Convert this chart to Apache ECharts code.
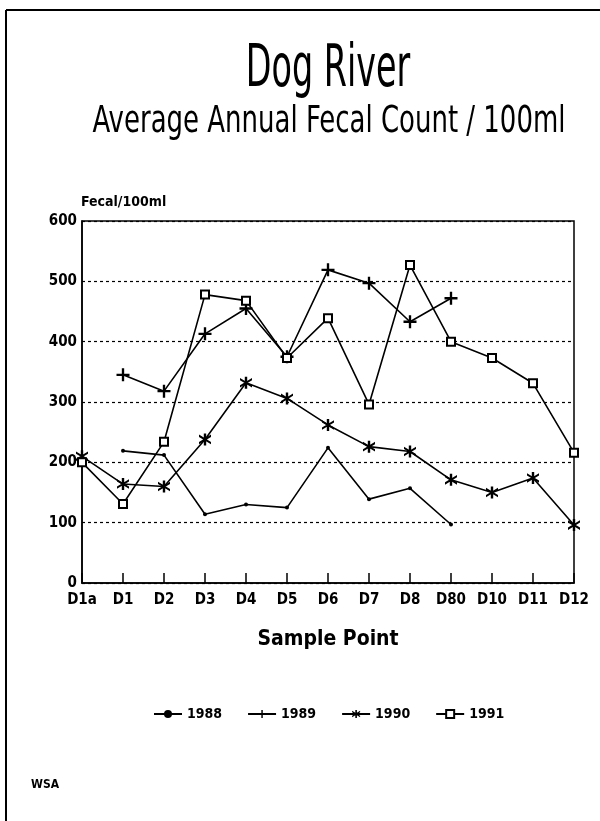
<!DOCTYPE html>
<html>
<head>
<meta charset="utf-8">
<script src="https://cdn.jsdelivr.net/npm/echarts@6/dist/echarts.min.js"></script>
<style>
html,body{margin:0;padding:0;background:#fff;}
#chart{width:600px;height:821px;}
</style>
</head>
<body>
<div id="chart"></div>
<script>
var categories = ['D1a','D1','D2','D3','D4','D5','D6','D7','D8','D80','D10','D11','D12'];
var yTicks = [0,100,200,300,400,500,600];
var s1988 = [null,219,212,114,130,125,224,139,157,97,null,null,null];
var s1989 = [null,345,318,413,455,375,519,497,433,472,null,null,null];
var s1990 = [210,164,160,238,332,306,262,226,218,171,150,174,96];
var s1991 = [200,131,234,478,468,373,439,296,527,400,373,331,216];
var seriesNames = ['1988','1989','1990','1991'];

var FONT = '"DejaVu Sans Condensed","Liberation Sans Narrow","Liberation Sans",sans-serif';
var plusPath = 'path://M4.1,0h1.8v10h-1.8zM0,4.1h10v1.8h-10z';
var starPath = 'path://M4.0,0h2.0v10h-2.0zM0,1.0L10,7.1L10,9.0L0,2.9zM0,7.1L10,1.0L10,2.9L0,9.0z';

function mk(name, data, symbol, size) {
  return {
    name: name, type: 'line', data: data,
    symbol: symbol, symbolSize: size, showSymbol: true,
    connectNulls: false,
    lineStyle: {color: '#000', width: 1.6},
    itemStyle: {color: '#000', borderColor: '#000', borderWidth: symbol === 'emptyRect' ? 1.6 : 0},
    emphasis: {disabled: true},
    animation: false
  };
}

var chart = echarts.init(document.getElementById('chart'));
chart.setOption({
  backgroundColor: '#fff',
  animation: false,
  graphic: [
    {type: 'line', shape: {x1: 6, y1: 10, x2: 6, y2: 821}, style: {stroke: '#000', lineWidth: 2}},
    {type: 'line', shape: {x1: 6, y1: 10, x2: 600, y2: 10}, style: {stroke: '#000', lineWidth: 2}},
    {type: 'text', x: 328, y: 100, scaleX: 0.64,
     style: {text: 'Dog River', x: 0, y: 0, align: 'center', verticalAlign: 'bottom',
       fontFamily: FONT, fontSize: 58, fill: '#000'}},
    {type: 'text', x: 329, y: 141, scaleX: 0.76,
     style: {text: 'Average Annual Fecal Count / 100ml', x: 0, y: 0, align: 'center', verticalAlign: 'bottom',
       fontFamily: FONT, fontSize: 38, fill: '#000'}},
    {type: 'text', x: 31, y: 779, style: {text: 'WSA', fontFamily: FONT, fontSize: 12, fontWeight: 'bold', fill: '#000'}}
  ],
  legend: {
    top: 707, left: 153, padding: 0,
    itemWidth: 28, itemHeight: 10, itemGap: 25,
    textStyle: {fontFamily: FONT, fontSize: 14, fontWeight: 'bold', color: '#000'},
    data: seriesNames
  },
  grid: {left: 82, right: 26, top: 221, bottom: 238, show: true, borderColor: '#000', borderWidth: 1.5, backgroundColor: 'transparent'},
  xAxis: {
    type: 'category', data: categories, boundaryGap: false,
    name: 'Sample Point', nameLocation: 'middle', nameGap: 46,
    nameTextStyle: {fontFamily: FONT, fontSize: 21, fontWeight: 'bold', color: '#000'},
    axisLine: {lineStyle: {color: '#000', width: 1.5}},
    axisTick: {show: true, inside: true, length: 10, lineStyle: {color: '#000', width: 1.5}},
    axisLabel: {color: '#000', fontFamily: FONT, fontSize: 15, fontWeight: 'bold', margin: 10, interval: 0},
    splitLine: {show: false}
  },
  yAxis: {
    type: 'value', min: 0, max: 600, interval: 100,
    name: 'Fecal/100ml', nameLocation: 'end', nameGap: 12,
    nameTextStyle: {fontFamily: FONT, fontSize: 14, fontWeight: 'bold', color: '#000', align: 'left', padding: [0,0,0,-1]},
    axisLine: {show: true, lineStyle: {color: '#000', width: 1.5}},
    axisTick: {show: false},
    axisLabel: {color: '#000', fontFamily: FONT, fontSize: 15, fontWeight: 'bold', margin: 5,
      formatter: function (v) { return yTicks.indexOf(v) >= 0 ? String(v) : ''; }},
    splitLine: {show: true, lineStyle: {color: '#000', type: [3, 3], width: 1.2}}
  },
  series: [
    mk('1988', s1988, 'circle', 4),
    mk('1989', s1989, plusPath, 13),
    mk('1990', s1990, starPath, 12),
    mk('1991', s1991, 'emptyRect', 8)
  ]
});
</script>
</body>
</html>
